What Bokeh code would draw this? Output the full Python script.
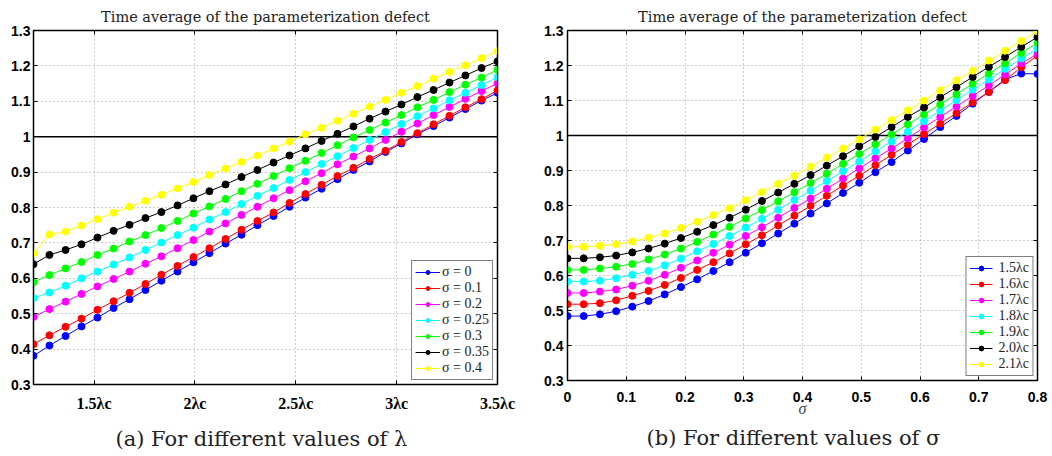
from bokeh.plotting import figure
from bokeh.layouts import row
from bokeh.models import (Range1d, FixedTicker, Span, LinearAxis, Title,
                          Legend, LegendItem)
from bokeh.embed import file_html
from bokeh.resources import INLINE

TITLE = "Time average of the parameterization defect"
COLORS = ["#0000ff", "#ff0000", "#ff00ff", "#00ffff", "#00ff00", "#000000", "#ffff00"]

# ---------------- panel (a): against lambda (in units of lambda_c) ----------------
LAMBDA = [1.2, 1.279, 1.359, 1.438, 1.517, 1.597, 1.676, 1.755, 1.834, 1.914,
          1.993, 2.072, 2.152, 2.231, 2.310, 2.390, 2.469, 2.548, 2.628, 2.707,
          2.786, 2.866, 2.945, 3.024, 3.103, 3.183, 3.262, 3.341, 3.421, 3.5]
A_LABELS = ["σ = 0", "σ = 0.1", "σ = 0.2", "σ = 0.25", "σ = 0.3", "σ = 0.35", "σ = 0.4"]
A_SIG0 = [0.381, 0.410, 0.437, 0.464, 0.489, 0.516, 0.541, 0.567, 0.593, 0.619,
          0.645, 0.671, 0.698, 0.723, 0.750, 0.776, 0.802, 0.828, 0.853, 0.880,
          0.906, 0.930, 0.957, 0.981, 1.007, 1.030, 1.054, 1.078, 1.102, 1.124]
A_SIG01 = [0.414, 0.439, 0.463, 0.486, 0.511, 0.535, 0.559, 0.584, 0.610, 0.635,
           0.660, 0.685, 0.711, 0.737, 0.762, 0.786, 0.813, 0.838, 0.864, 0.889,
           0.912, 0.937, 0.960, 0.985, 1.010, 1.035, 1.059, 1.083, 1.106, 1.131]
A_SIG02 = [0.491, 0.513, 0.534, 0.556, 0.577, 0.598, 0.619, 0.641, 0.662, 0.685,
           0.708, 0.732, 0.755, 0.779, 0.802, 0.826, 0.849, 0.874, 0.897, 0.922,
           0.944, 0.967, 0.991, 1.014, 1.037, 1.061, 1.084, 1.107, 1.129, 1.151]
A_SIG025 = [0.544, 0.560, 0.579, 0.600, 0.619, 0.639, 0.659, 0.680, 0.701, 0.722,
            0.743, 0.766, 0.787, 0.810, 0.833, 0.855, 0.878, 0.900, 0.923, 0.945,
            0.968, 0.991, 1.013, 1.036, 1.058, 1.080, 1.103, 1.124, 1.146, 1.168]
A_SIG03 = [0.589, 0.609, 0.628, 0.646, 0.666, 0.684, 0.704, 0.722, 0.742, 0.762,
           0.783, 0.803, 0.824, 0.846, 0.867, 0.889, 0.911, 0.932, 0.954, 0.976,
           0.998, 1.019, 1.040, 1.061, 1.083, 1.104, 1.126, 1.147, 1.167, 1.189]
A_SIG035 = [0.640, 0.666, 0.680, 0.696, 0.715, 0.734, 0.751, 0.770, 0.787, 0.806,
            0.826, 0.846, 0.865, 0.886, 0.906, 0.927, 0.947, 0.967, 0.988, 1.008,
            1.029, 1.051, 1.071, 1.091, 1.112, 1.132, 1.153, 1.173, 1.194, 1.213]
A_SIG04 = [0.670, 0.724, 0.732, 0.749, 0.767, 0.785, 0.802, 0.819, 0.836, 0.854,
           0.872, 0.892, 0.910, 0.929, 0.947, 0.967, 0.986, 1.007, 1.025, 1.045,
           1.065, 1.085, 1.104, 1.124, 1.143, 1.164, 1.183, 1.202, 1.222, 1.242]
A_XTICKS = [1.5, 2.0, 2.5, 3.0, 3.5]
A_XTICK_LABELS = ["1.5λc", "2λc", "2.5λc", "3λc", "3.5λc"]
A_CAPTION = "(a) For different values of λ"

# ---------------- panel (b): against sigma ----------------
SIGMA = [0.0, 0.0276, 0.0552, 0.0828, 0.1103, 0.1379, 0.1655, 0.1931, 0.2207, 0.2483,
         0.2759, 0.3034, 0.3310, 0.3586, 0.3862, 0.4138, 0.4414, 0.4690, 0.4966, 0.5241,
         0.5517, 0.5793, 0.6069, 0.6345, 0.6621, 0.6897, 0.7172, 0.7448, 0.7724, 0.8]
B_LABELS = ["1.5λc", "1.6λc", "1.7λc", "1.8λc", "1.9λc", "2.0λc", "2.1λc"]
B_L15 = [0.484, 0.484, 0.489, 0.498, 0.511, 0.527, 0.546, 0.567, 0.589, 0.613,
         0.638, 0.665, 0.692, 0.720, 0.748, 0.777, 0.806, 0.836, 0.865, 0.895,
         0.924, 0.957, 0.990, 1.024, 1.056, 1.091, 1.125, 1.160, 1.177, 1.176]
B_L16 = [0.518, 0.518, 0.521, 0.529, 0.542, 0.556, 0.573, 0.593, 0.616, 0.638,
         0.663, 0.689, 0.715, 0.743, 0.771, 0.799, 0.828, 0.857, 0.885, 0.915,
         0.945, 0.974, 1.004, 1.034, 1.064, 1.095, 1.124, 1.158, 1.195, 1.228]
B_L17 = [0.550, 0.550, 0.554, 0.560, 0.571, 0.585, 0.602, 0.622, 0.643, 0.665,
         0.688, 0.713, 0.738, 0.765, 0.793, 0.820, 0.848, 0.877, 0.906, 0.935,
         0.963, 0.992, 1.023, 1.053, 1.083, 1.113, 1.143, 1.174, 1.206, 1.233]
B_L18 = [0.583, 0.583, 0.585, 0.592, 0.602, 0.613, 0.629, 0.648, 0.669, 0.690,
         0.713, 0.737, 0.762, 0.788, 0.816, 0.842, 0.870, 0.898, 0.926, 0.955,
         0.983, 1.011, 1.041, 1.071, 1.101, 1.131, 1.160, 1.190, 1.220, 1.248]
B_L19 = [0.616, 0.616, 0.620, 0.625, 0.633, 0.646, 0.660, 0.677, 0.696, 0.717,
         0.739, 0.763, 0.787, 0.812, 0.838, 0.864, 0.891, 0.919, 0.947, 0.975,
         1.003, 1.032, 1.060, 1.089, 1.118, 1.148, 1.177, 1.206, 1.236, 1.265]
B_L20 = [0.649, 0.649, 0.652, 0.657, 0.666, 0.677, 0.691, 0.707, 0.725, 0.744,
         0.765, 0.788, 0.813, 0.837, 0.862, 0.887, 0.914, 0.941, 0.969, 0.996,
         1.024, 1.053, 1.080, 1.109, 1.138, 1.167, 1.196, 1.224, 1.253, 1.281]
B_L21 = [0.682, 0.682, 0.685, 0.689, 0.697, 0.708, 0.720, 0.736, 0.754, 0.773,
         0.792, 0.815, 0.838, 0.862, 0.885, 0.911, 0.937, 0.963, 0.989, 1.017,
         1.044, 1.072, 1.100, 1.129, 1.158, 1.185, 1.214, 1.242, 1.270, 1.298]
B_XTICKS = [0.0, 0.1, 0.2, 0.3, 0.4, 0.5, 0.6, 0.7, 0.8]
B_XTICK_LABELS = ["0", "0.1", "0.2", "0.3", "0.4", "0.5", "0.6", "0.7", "0.8"]
B_XLABEL = "σ"
B_CAPTION = "(b) For different values of σ"

YTICKS = [0.3, 0.4, 0.5, 0.6, 0.7, 0.8, 0.9, 1.0, 1.1, 1.2, 1.3]
YTICK_LABELS = ["0.3", "0.4", "0.5", "0.6", "0.7", "0.8", "0.9", "1", "1.1", "1.2", "1.3"]
REF_LEVEL = 1.0

SERIF = "Liberation Serif"
TITLE_FONT = "DejaVu Serif"
SANS = "Liberation Sans"


def base_panel(xr, xticks, xlabels, fw, fh, mb, title_standoff):
    p = figure(frame_width=fw, frame_height=fh, x_range=Range1d(*xr),
               y_range=Range1d(YTICKS[0], YTICKS[-1]), title=TITLE,
               output_backend="svg", toolbar_location=None,
               min_border_left=mb[0], min_border_right=mb[1],
               min_border_top=mb[2], min_border_bottom=mb[3])
    p.title.text_font = TITLE_FONT
    p.title.text_font_size = "14.5px"
    p.title.text_font_style = "normal"
    p.title.text_color = "#222222"
    p.title.align = "center"
    p.title.standoff = title_standoff
    p.outline_line_color = "black"
    p.outline_line_width = 1.5
    p.background_fill_color = "white"
    p.border_fill_color = "white"

    for g in p.xgrid:
        g.ticker = FixedTicker(ticks=xticks)
    for g in p.ygrid:
        g.ticker = FixedTicker(ticks=YTICKS)
    for g in list(p.xgrid) + list(p.ygrid):
        g.grid_line_color = "#9a9a9a"
        g.grid_line_dash = "1 3"
        g.grid_line_width = 1

    yax = p.yaxis[0]
    yax.ticker = FixedTicker(ticks=YTICKS)
    yax.major_label_overrides = dict(zip(YTICKS, YTICK_LABELS))
    xax = p.xaxis[0]
    xax.ticker = FixedTicker(ticks=xticks)
    xax.major_label_overrides = dict(zip(xticks, xlabels))
    for ax in (xax, yax):
        ax.major_label_text_font = SANS
        ax.major_label_text_font_style = "bold"
        ax.major_label_text_font_size = "14px"
        ax.major_label_text_color = "black"
        ax.major_tick_in = 4
        ax.major_tick_out = 0
        ax.minor_tick_in = 0
        ax.minor_tick_out = 0
        ax.axis_line_color = "black"
        ax.major_tick_line_color = "black"
    yax.major_label_standoff = 3
    xax.major_label_standoff = 10

    # inward ticks on the right and top sides (no labels)
    for place, tk in (("right", YTICKS), ("above", xticks)):
        ax = LinearAxis(ticker=FixedTicker(ticks=tk), major_label_text_font_size="1px",
                        major_label_text_color=None,
                        major_label_standoff=0, major_tick_in=4, major_tick_out=0,
                        minor_tick_in=0, minor_tick_out=0, axis_line_color="black",
                        major_tick_line_color="black")
        p.add_layout(ax, place)

    p.add_layout(Span(location=REF_LEVEL, dimension="width", line_color="black",
                      line_width=1.5, level="underlay"))
    return p, xax, yax


def add_series(p, x, series, labels, leg_font_size, item_h, glyph_w, standoff):
    items = []
    for ys, col, lab in zip(series, COLORS, labels):
        ln = p.line(x, ys, line_color=col, line_width=1)
        sc = p.scatter(x, ys, size=7, fill_color=col, line_color=col)
        items.append(LegendItem(label=lab, renderers=[ln, sc]))
    leg = Legend(items=items, location="bottom_right", margin=4, padding=3,
                 spacing=0, label_height=item_h, glyph_height=item_h,
                 glyph_width=glyph_w, label_standoff=standoff,
                 border_line_color="black", border_line_width=1.5,
                 background_fill_color="white", background_fill_alpha=1,
                 label_text_font=SERIF, label_text_font_size=leg_font_size,
                 label_text_color="#222222")
    p.add_layout(leg)


def add_caption(p, text, standoff, offset):
    p.add_layout(Title(text=text, align="left", text_font=TITLE_FONT,
                       text_font_size="21px", text_font_style="normal",
                       text_color="#222222", standoff=standoff, offset=offset), "below")


# ---- panel (a)
pa, xa, ya = base_panel((LAMBDA[0], LAMBDA[-1]), A_XTICKS, A_XTICK_LABELS,
                        464, 354, (33, 40, 30, 72), 12)
xa.major_label_text_font = SERIF
xa.major_label_text_font_size = "16px"
add_series(pa, LAMBDA, [A_SIG0, A_SIG01, A_SIG02, A_SIG025, A_SIG03, A_SIG035, A_SIG04],
           A_LABELS, "14px", 10, 25, 2)
add_caption(pa, A_CAPTION, 20, 82)

# ---- panel (b)
pb, xb, yb = base_panel((SIGMA[0], SIGMA[-1]), B_XTICKS, B_XTICK_LABELS,
                        470, 350, (30, 14, 29, 77), 11)
xb.major_label_standoff = 11
xb.axis_label = B_XLABEL
xb.axis_label_text_font = SERIF
xb.axis_label_text_font_style = "italic"
xb.axis_label_text_font_size = "16px"
xb.axis_label_standoff = -5
yb.major_label_standoff = 4
add_series(pb, SIGMA, [B_L15, B_L16, B_L17, B_L18, B_L19, B_L20, B_L21],
           B_LABELS, "14px", 12, 23, 6)
add_caption(pb, B_CAPTION, 9, 79)

layout = row(pa, pb)
open("out.html", "w").write(file_html(layout, INLINE))
